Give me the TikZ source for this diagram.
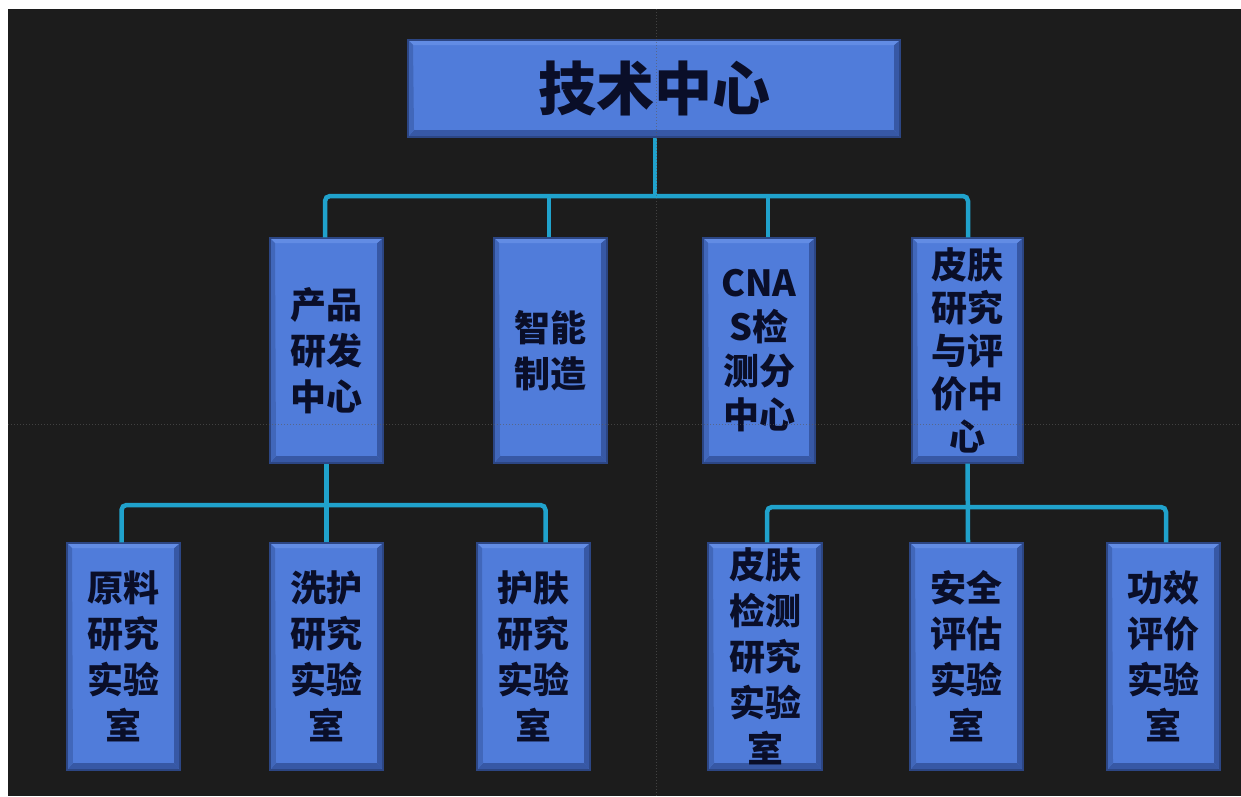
\documentclass[tikz,border=0pt]{standalone}
\usepackage{fontspec}
\newfontfamily\cjk{Noto Sans CJK SC}
\definecolor{bg}{RGB}{28,28,28}
\definecolor{boxfill}{RGB}{80,124,218}
\definecolor{boxedge}{RGB}{55,88,165}
\definecolor{boxlight}{RGB}{98,140,228}
\definecolor{conncol}{RGB}{32,162,204}
\definecolor{guide}{RGB}{90,90,90}
\definecolor{txt}{RGB}{10,14,40}
\tikzset{
  orgbox/.style={draw=boxedge!80!black, line width=1.2pt, fill=boxfill, inner sep=0pt,
    align=center, font=\cjk\bfseries\fontsize{36}{46}\selectfont, text=txt,
    path picture={
      \fill[boxedge] (path picture bounding box.south west) -- ([xshift=6pt,yshift=7pt]path picture bounding box.south west)
        -- ([xshift=-6pt,yshift=7pt]path picture bounding box.south east) -- (path picture bounding box.south east) -- cycle;
      \fill[boxedge] (path picture bounding box.north east) -- ([xshift=-6pt,yshift=-5pt]path picture bounding box.north east)
        -- ([xshift=-6pt,yshift=7pt]path picture bounding box.south east) -- (path picture bounding box.south east) -- cycle;
      \fill[boxlight] (path picture bounding box.north west) -- ([xshift=5pt,yshift=-5pt]path picture bounding box.north west)
        -- ([xshift=-6pt,yshift=-5pt]path picture bounding box.north east) -- (path picture bounding box.north east) -- cycle;
      \fill[boxedge!60!boxfill] (path picture bounding box.north west) -- ([xshift=5pt,yshift=-5pt]path picture bounding box.north west)
        -- ([xshift=6pt,yshift=7pt]path picture bounding box.south west) -- (path picture bounding box.south west) -- cycle;
    }},
  conn/.style={draw=conncol, line width=4.5pt, rounded corners=5pt},
  guideline/.style={draw=guide, line width=1pt, dotted, opacity=0.6}
}
\begin{document}
\begin{tikzpicture}[x=1pt,y=-1pt]
\fill[white] (0,0) rectangle (1241,796);
\fill[bg] (8,9) rectangle (1241,796);
\useasboundingbox (0,0) rectangle (1241,796);

% boxes
\node[orgbox, minimum width=492, minimum height=97, font=\cjk\bfseries\fontsize{58}{60}\selectfont] (top) at (654,88.5) {技术中心};

\node[orgbox, minimum width=113, minimum height=225] (p1) at (326.5,350.5) {产品\\研发\\中心};
\node[orgbox, minimum width=113, minimum height=225] (p2) at (550.5,350.5) {智能\\制造};
\node[orgbox, minimum width=112, minimum height=225, font=\cjk\bfseries\fontsize{36}{44}\selectfont] (p3) at (759,350.5) {CNA\\S检\\测分\\中心};
\node[orgbox, minimum width=111, minimum height=225, font=\cjk\bfseries\fontsize{36}{43}\selectfont] (p4) at (967.5,350.5) {皮肤\\研究\\与评\\价中\\心};

\node[orgbox, minimum width=113, minimum height=227] (c1) at (123.5,656.5) {原料\\研究\\实验\\室};
\node[orgbox, minimum width=113, minimum height=227] (c2) at (326.5,656.5) {洗护\\研究\\实验\\室};
\node[orgbox, minimum width=113, minimum height=227] (c3) at (533.5,656.5) {护肤\\研究\\实验\\室};
\node[orgbox, minimum width=114, minimum height=227] (d1) at (765,656.5) {皮肤\\检测\\研究\\实验\\室};
\node[orgbox, minimum width=113, minimum height=227] (d2) at (966.5,656.5) {安全\\评估\\实验\\室};
\node[orgbox, minimum width=113, minimum height=227] (d3) at (1163.5,656.5) {功效\\评价\\实验\\室};

% bus coordinates
\coordinate (bus1) at (655,196);
\coordinate (bus2) at (326,505);
\coordinate (bus3) at (968,507);

% connectors level 1
\draw[conn] (top.south -| bus1) -- (bus1);
\draw[conn] ([xshift=-1.5pt]p1.north) |- (bus1) -| ([xshift=0.5pt]p4.north);
\draw[conn] ([xshift=-1.5pt]p2.north) -- ([xshift=-1.5pt]p2.north |- bus1);
\draw[conn] ([xshift=9pt]p3.north) -- ([xshift=9pt]p3.north |- bus1);

% connectors level 2 left
\draw[conn] (p1.south) -- (c2.north);
\draw[conn] ([xshift=-2pt]c1.north) |- (bus2) -| ([xshift=12pt]c3.north);

% connectors level 2 right
\draw[conn] (p4.south) -- ([xshift=1.5pt]d2.north);
\draw[conn] ([xshift=2pt]d1.north) |- (bus3) -| ([xshift=2.5pt]d3.north);

% faint guide lines
\draw[guideline] (656,9) -- (656,796);
\draw[guideline] (8,424) -- (1241,424);
\end{tikzpicture}
\end{document}
